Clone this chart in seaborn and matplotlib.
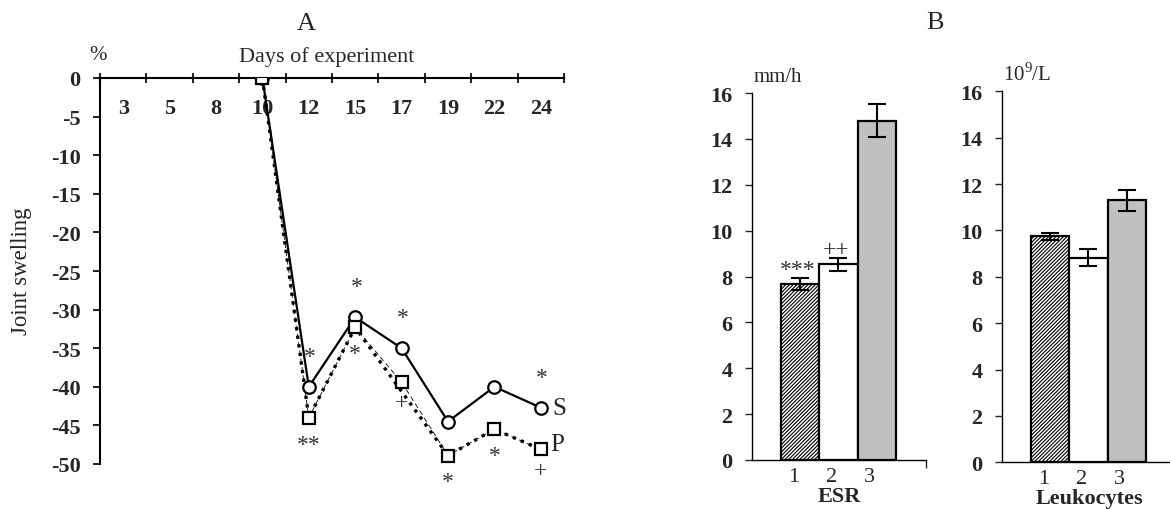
import numpy as np
import pandas as pd
import matplotlib
matplotlib.use("Agg")
import matplotlib.pyplot as plt
import matplotlib.transforms as mtransforms
import seaborn as sns

# ---------------- data ----------------
days = ["3", "5", "8", "10", "12", "15", "17", "19", "22", "24"]
S_vals = [np.nan, np.nan, np.nan, 0, -40.0, -31.0, -35.0, -44.5, -40.0, -42.7]
P_vals = [np.nan, np.nan, np.nan, 0, -44.0, -32.3, -39.4, -48.9, -45.5, -48.1]
S_marks = ["", "", "", "", "*", "*", "*", "", "", "*"]
P_marks = ["", "", "", "", "**", "*", "+", "*", "*", "+"]

groups = ["1", "2", "3"]
esr_vals = [7.67, 8.53, 14.8]
esr_err = [0.26, 0.27, 0.73]
esr_marks = ["***", "++", ""]
leu_vals = [9.74, 8.82, 11.3]
leu_err = [0.15, 0.36, 0.45]
bar_colors = ["white", "white", "#c0c0c0"]

# ---------------- style ----------------
sns.set_style("white")
plt.rcParams["font.family"] = ["Liberation Serif", "DejaVu Serif"]
plt.rcParams["mathtext.fontset"] = "custom"
plt.rcParams["mathtext.rm"] = "Liberation Serif"
plt.rcParams["axes.unicode_minus"] = False
plt.rcParams["hatch.linewidth"] = 0.8
FS = 16

fig = plt.figure(figsize=(11.7, 5.1), dpi=100)
W, H = 1170.0, 510.0

def rect(l, t, r, b):
    return [l / W, 1 - b / H, (r - l) / W, (b - t) / H]

# ================= Panel A =================
axA = fig.add_axes(rect(100, 79, 564, 465))
xpos = np.arange(len(days))
S = np.array(S_vals)
P = np.array(P_vals)
# thick dotted overlay for P (broken around day 17 as in original)
P_dot = P.copy()
P_dot[days.index("17")] = np.nan

sns.lineplot(x=xpos, y=P, ax=axA, color="black", lw=0.6, linestyle=(0, (6, 4)))
sns.lineplot(x=xpos, y=P_dot, ax=axA, color="black", lw=2.4, linestyle=(0, (1, 1.6)))
sns.lineplot(x=xpos, y=S, ax=axA, color="black", lw=1.6, marker="o", markersize=9,
             markerfacecolor="white", markeredgecolor="black", markeredgewidth=1.6)
axA.plot(xpos, P, linestyle="none", marker="s", markersize=9,
         markerfacecolor="white", markeredgecolor="black", markeredgewidth=1.6, zorder=5)

axA.set_xlim(-0.5, len(days) - 0.5)
axA.set_ylim(-50, 0)
axA.set_yticks(np.arange(-50, 1, 5))
axA.set_yticklabels([f"{v:d}" for v in np.arange(-50, 1, 5)], fontsize=FS, fontweight="bold")
axA.tick_params(axis="y", direction="out", length=5, width=1.5, pad=9, left=True)

axA.xaxis.tick_top()
axA.set_xticks(xpos)
axA.set_xticklabels(days, fontsize=FS, fontweight="bold")
axA.set_xticks(np.arange(-0.5, len(days)), minor=True)
axA.tick_params(axis="x", which="major", length=0, pad=-29, top=True, labeltop=True)
axA.tick_params(axis="x", which="minor", length=7, width=1.5, direction="inout", top=True)
for sp in ["bottom", "right"]:
    axA.spines[sp].set_visible(False)
for sp in ["top", "left"]:
    axA.spines[sp].set_visible(True)
    axA.spines[sp].set_linewidth(1.5)
    axA.spines[sp].set_color("black")
axA.set_xlabel("")
axA.set_ylabel("")

# significance marks
for i, m in enumerate(S_marks):
    if m:
        axA.annotate(m, (xpos[i], S[i]), xytext=(1, 22), textcoords="offset points",
                     ha="center", va="center", fontsize=FS + 1, color="#333333")
for i, m in enumerate(P_marks):
    if m:
        dy = -19 if m != "+" else -15
        axA.annotate(m, (xpos[i], P[i]), xytext=(0, dy), textcoords="offset points",
                     ha="center", va="center", fontsize=FS + 1, color="#333333")
axA.annotate("S", (xpos[-1], S[-1]), xytext=(13, 0), textcoords="offset points",
             ha="center", va="center", fontsize=FS + 2)
axA.annotate("P", (xpos[-1], P[-1]), xytext=(12, 4), textcoords="offset points",
             ha="center", va="center", fontsize=FS + 2)

fig.text(306 / W, 1 - 24 / H, "A", ha="center", va="center", fontsize=FS + 3)
fig.text(98 / W, 1 - 55 / H, "%", ha="center", va="center", fontsize=FS - 1)
fig.text(327 / W, 1 - 57 / H, "Days of experiment", ha="center", va="center", fontsize=FS)
fig.text(22 / W, 1 - 271 / H, "Joint swelling", ha="center", va="center", rotation=90, fontsize=FS + 0.5)

# ================= Panel B =================
fig.text(935 / W, 1 - 23 / H, "B", ha="center", va="center", fontsize=FS + 3)
shift = mtransforms.ScaledTranslation(-0.07, 0, fig.dpi_scale_trans)

def bar_panel(ax, vals, errs, label, unit, marks=None):
    df = pd.DataFrame({"group": groups, "value": vals})
    sns.barplot(data=df, x="group", y="value", hue="group", palette=bar_colors, legend=False,
                width=1.0, errorbar=None, edgecolor="black", linewidth=1.6, ax=ax)
    ax.patches[0].set_hatch("/////////")
    xs = np.arange(len(groups))
    ax.errorbar(xs, vals, yerr=errs, fmt="none", ecolor="black", elinewidth=1.5,
                capsize=6.5, capthick=1.5, zorder=5)
    ax.set_ylim(0, 16)
    xl = (-1.26, 3.29)
    ax.set_xlim(*xl)
    ax.set_yticks(np.arange(0, 17, 2))
    ax.set_yticklabels([str(v) for v in range(0, 17, 2)], fontsize=FS, fontweight="bold")
    ax.tick_params(axis="y", direction="out", length=5, width=1.0, pad=9, left=True)
    ax.set_xticks(xs)
    ax.set_xticklabels(groups, fontsize=FS)
    ax.tick_params(axis="x", which="major", length=0, pad=5)
    for lab in ax.get_xticklabels():
        lab.set_transform(lab.get_transform() + shift)
    ax.set_xticks([xl[1]], minor=True)
    ax.tick_params(axis="x", which="minor", length=6, width=1.0, direction="out", bottom=True)
    for sp in ["top", "right"]:
        ax.spines[sp].set_visible(False)
    for sp in ["bottom", "left"]:
        ax.spines[sp].set_visible(True)
        ax.spines[sp].set_color("black")
        ax.spines[sp].set_linewidth(1.0)
    ax.set_ylabel("")
    ax.set_xlabel(label, fontsize=FS, fontweight="bold", labelpad=0)
    ax.annotate(unit, (0, 1), xycoords="axes fraction", xytext=(1, 5), textcoords="offset points",
                ha="left", va="bottom", fontsize=FS - 1)
    if marks:
        for i, m in enumerate(marks):
            if m:
                ax.annotate(m, (xs[i], vals[i] + errs[i]), xytext=(-2, 6), textcoords="offset points",
                            ha="center", va="center", fontsize=FS + 1, color="#333333")

axE = fig.add_axes(rect(752, 94, 926, 461))
bar_panel(axE, esr_vals, esr_err, "ESR", "mm/h", esr_marks)
axL = fig.add_axes(rect(1002, 92.3, 1176, 463.3))
bar_panel(axL, leu_vals, leu_err, "Leukocytes", r"10$^{9}$/L")

fig.savefig("out.png", dpi=100)
